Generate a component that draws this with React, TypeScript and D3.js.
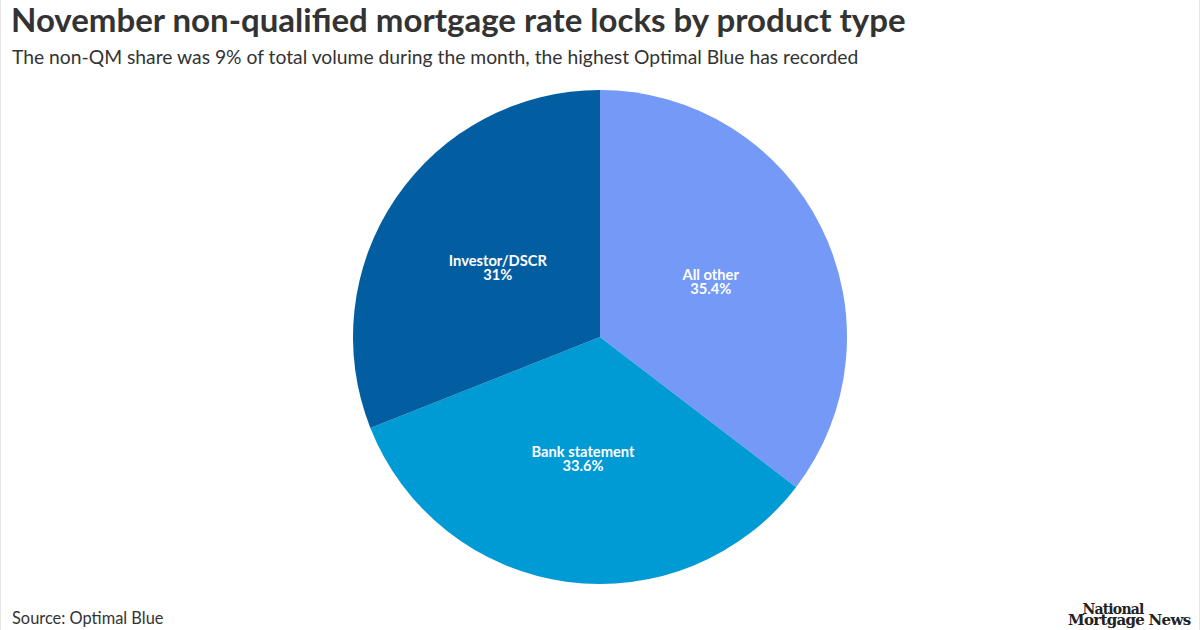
import React from "react";
import * as d3 from "d3";

const categories = ["All other", "Bank statement", "Investor/DSCR"];
const values = [35.4, 33.6, 31];
const valueLabels = ["35.4%", "33.6%", "31%"];
const colors = ["#7499f7", "#009ad4", "#035ea1"];

const W = 1200;
const H = 630;
const cx = 600;
const cy = 337;
const R = 247;

export default function App() {
  const pie = d3.pie<number>().sort(null).value((d) => d);
  const arcs = pie(values);
  const arc = d3.arc<d3.PieArcDatum<number>>().innerRadius(0).outerRadius(R);
  const labelArc = d3.arc<d3.PieArcDatum<number>>().innerRadius(R * 0.5).outerRadius(R * 0.5);
  return (
    <svg width={W} height={H} style={{ position: "absolute", left: 0, top: 0, fontFamily: "Lato" }}>
      <rect x={0} y={0} width={W} height={H} fill="#fff" />
      <line x1={0.5} y1={0} x2={0.5} y2={H} stroke="#e6e6e6" />
      <line x1={W - 0.5} y1={0} x2={W - 0.5} y2={H} stroke="#e6e6e6" />
      <text x={11} y={32} fontSize={33} fontWeight={700} fill="#333">
        November non-qualified mortgage rate locks by product type
      </text>
      <text x={12} y={64} fontSize={19.3} fill="#333">
        The non-QM share was 9% of total volume during the month, the highest Optimal Blue has recorded
      </text>
      <g transform={`translate(${cx},${cy})`}>
        {arcs.map((a, i) => (
          <path key={categories[i]} d={arc(a) || ""} fill={colors[i]} />
        ))}
        {arcs.map((a, i) => {
          const [x, y] = labelArc.centroid(a);
          return (
            <text key={"l" + i} x={x} y={y} textAnchor="middle" fill="#fff" fontSize={14.7} fontWeight={700}>
              <tspan x={x} dy={-2}>{categories[i]}</tspan>
              <tspan x={x} dy={14}>{valueLabels[i]}</tspan>
            </text>
          );
        })}
      </g>
      <text x={12} y={624} fontSize={16.4} fill="#333">
        Source: Optimal Blue
      </text>
      <text x={1113} y={614} textAnchor="middle" fontSize={14} fontWeight={700} fill="#222" fontFamily="DejaVu Serif" letterSpacing={-0.8}>
        National
      </text>
      <text x={1068} y={625} fontSize={15} fontWeight={700} fill="#222" fontFamily="DejaVu Serif" letterSpacing={-0.7}>
        Mortgage News
      </text>
    </svg>
  );
}
